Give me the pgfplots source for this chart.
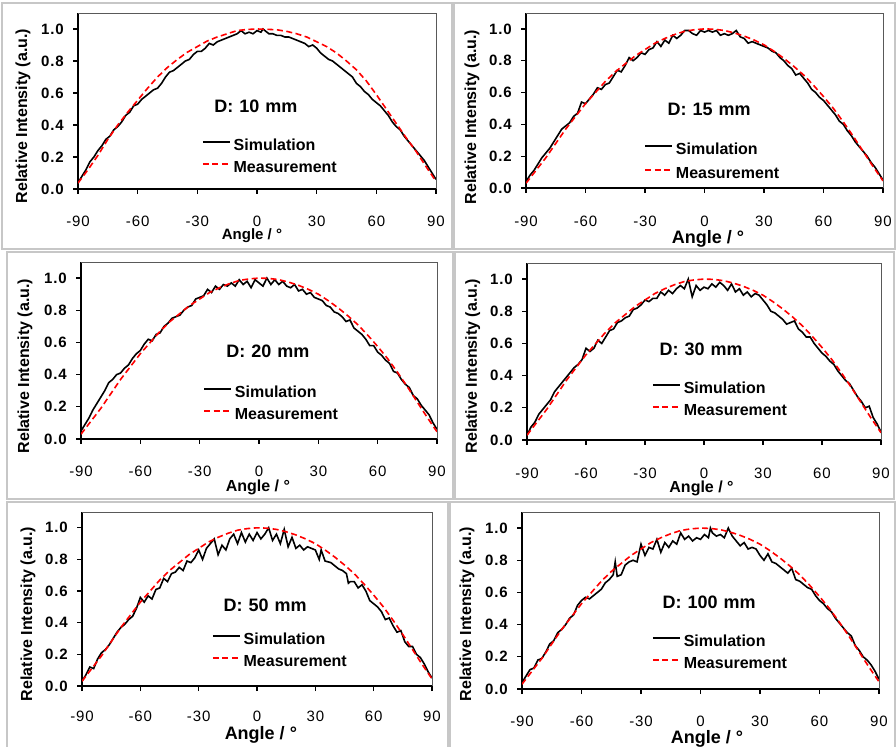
\documentclass[border=0pt]{standalone}
\usepackage{fontspec}
\setmainfont{Liberation Sans}
\usepackage{pgfplots}
\usepackage{pgfplotstable}
\pgfplotsset{compat=1.18}
\newcommand\fs[1]{\fontsize{#1}{#1}\selectfont}
\newcommand\tickfont{\fs{15bp}\addfontfeature{LetterSpace=6}}

\pgfplotstableread{
x y
-90 0.037
-85 0.12
-80 0.21
-75 0.31
-70 0.40
-65 0.48
-60 0.555
-55 0.63
-50 0.70
-45 0.76
-40 0.81
-35 0.855
-30 0.89
-25 0.925
-20 0.95
-15 0.97
-10 0.99
-5 0.997
0 1.0
5 0.998
10 0.995
15 0.985
20 0.97
25 0.95
30 0.92
35 0.89
40 0.85
45 0.80
50 0.745
55 0.675
60 0.59
65 0.50
70 0.41
75 0.32
80 0.235
85 0.14
90 0.048
}\measA

\pgfplotstableread{
x y
-90 0.03
-85 0.11
-80 0.19
-75 0.28
-70 0.37
-65 0.45
-60 0.53
-55 0.60
-50 0.67
-45 0.73
-40 0.78
-35 0.83
-30 0.87
-25 0.91
-20 0.94
-15 0.965
-10 0.985
-5 0.995
0 1.0
5 0.998
10 0.99
15 0.975
20 0.955
25 0.93
30 0.90
35 0.86
40 0.815
45 0.765
50 0.71
55 0.645
60 0.575
65 0.50
70 0.415
75 0.325
80 0.23
85 0.135
90 0.045
}\measB

\pgfplotstableread{
x y
-90 0.04
-88 0.08
-86 0.12
-84 0.17
-82 0.20
-80 0.24
-78 0.27
-76 0.31
-74 0.33
-72 0.37
-70 0.39
-68 0.42
-66 0.46
-64 0.48
-62 0.52
-60 0.53
-58 0.56
-56 0.58
-54 0.60
-52 0.62
-50 0.63
-48 0.66
-46 0.70
-44 0.73
-42 0.74
-40 0.76
-38 0.78
-36 0.80
-34 0.81
-32 0.84
-30 0.86
-28 0.86
-26 0.88
-24 0.91
-22 0.90
-20 0.92
-18 0.93
-16 0.94
-14 0.95
-12 0.96
-10 0.97
-8 0.99
-6 0.97
-4 0.98
-2 0.97
0 0.99
2 0.98
3 1.00
4 0.99
6 0.97
8 0.97
10 0.96
12 0.96
14 0.95
16 0.95
18 0.94
20 0.93
22 0.92
24 0.91
26 0.89
28 0.90
30 0.88
32 0.85
34 0.83
36 0.81
38 0.80
40 0.78
42 0.76
44 0.74
46 0.72
48 0.70
50 0.66
52 0.64
54 0.61
56 0.59
58 0.56
60 0.54
62 0.52
64 0.49
66 0.46
68 0.42
70 0.39
72 0.37
74 0.33
76 0.30
78 0.27
80 0.24
82 0.21
84 0.18
86 0.14
88 0.10
90 0.06
}\simA

\pgfplotstableread{
x y
-90 0.04
-88 0.08
-86 0.11
-84 0.15
-82 0.19
-80 0.22
-78 0.25
-76 0.29
-74 0.33
-72 0.37
-70 0.39
-68 0.41
-66 0.45
-64 0.47
-62 0.54
-60 0.53
-58 0.56
-56 0.59
-54 0.63
-52 0.62
-50 0.65
-48 0.66
-46 0.70
-44 0.74
-42 0.73
-40 0.77
-38 0.82
-36 0.80
-34 0.82
-32 0.85
-30 0.84
-28 0.87
-26 0.88
-24 0.92
-22 0.89
-20 0.93
-18 0.91
-16 0.96
-14 0.94
-12 0.96
-10 0.99
-8 0.99
-6 0.97
-4 0.96
-2 0.99
0 0.98
2 0.99
4 0.98
6 0.99
8 0.96
10 0.97
12 0.96
14 0.97
16 0.99
18 0.95
20 0.94
22 0.91
24 0.92
26 0.91
28 0.90
30 0.89
32 0.88
34 0.86
36 0.85
38 0.82
40 0.80
42 0.77
44 0.75
46 0.71
48 0.72
50 0.69
52 0.66
54 0.62
56 0.60
58 0.57
60 0.55
62 0.52
64 0.49
66 0.46
68 0.42
70 0.40
72 0.36
74 0.33
76 0.29
78 0.26
80 0.23
82 0.20
84 0.16
86 0.13
88 0.09
90 0.05
}\simB

\pgfplotstableread{
x y
-90 0.05
-88 0.09
-86 0.13
-84 0.18
-82 0.22
-80 0.26
-78 0.30
-76 0.35
-74 0.37
-72 0.40
-70 0.41
-68 0.44
-66 0.46
-64 0.50
-62 0.53
-60 0.55
-58 0.59
-56 0.62
-54 0.61
-52 0.65
-50 0.66
-48 0.70
-46 0.72
-44 0.75
-42 0.76
-40 0.77
-38 0.80
-36 0.82
-34 0.83
-32 0.87
-30 0.88
-28 0.89
-26 0.93
-24 0.91
-22 0.95
-20 0.93
-18 0.96
-16 0.95
-14 0.97
-12 0.95
-10 0.99
-8 0.96
-6 0.98
-4 0.94
-2 0.99
0 0.97
2 0.95
4 1.00
6 0.96
8 0.99
10 0.96
12 0.98
14 0.95
16 0.94
18 0.96
20 0.92
22 0.93
24 0.90
26 0.91
28 0.88
30 0.87
32 0.86
34 0.83
36 0.82
38 0.79
40 0.78
42 0.76
44 0.73
46 0.74
48 0.69
50 0.67
52 0.65
54 0.62
56 0.58
58 0.58
60 0.54
62 0.52
64 0.49
66 0.47
68 0.42
70 0.41
72 0.37
74 0.34
76 0.32
78 0.27
80 0.25
82 0.21
84 0.18
86 0.15
88 0.10
90 0.06
}\simC

\pgfplotstableread{
x y
-90 0.03
-88 0.08
-86 0.11
-84 0.16
-82 0.19
-80 0.22
-78 0.25
-76 0.30
-74 0.33
-72 0.36
-70 0.39
-68 0.42
-66 0.45
-64 0.47
-62 0.50
-60 0.57
-58 0.55
-56 0.57
-54 0.62
-52 0.60
-50 0.64
-48 0.68
-46 0.69
-44 0.73
-42 0.74
-40 0.76
-38 0.77
-36 0.81
-34 0.82
-32 0.84
-30 0.87
-28 0.86
-26 0.88
-24 0.88
-22 0.92
-20 0.90
-18 0.93
-16 0.91
-14 0.94
-12 0.96
-10 0.94
-8 1.00
-6 0.89
-4 0.96
-2 0.93
0 0.95
2 0.94
4 0.97
6 0.95
8 0.98
10 0.96
12 0.93
14 0.97
16 0.92
18 0.94
20 0.90
22 0.92
24 0.89
26 0.91
28 0.90
30 0.87
32 0.84
34 0.80
36 0.79
38 0.77
40 0.75
42 0.72
44 0.73
46 0.74
48 0.69
50 0.67
52 0.64
54 0.64
56 0.60
58 0.57
60 0.54
62 0.52
64 0.49
66 0.47
68 0.43
70 0.40
72 0.37
74 0.35
76 0.31
78 0.27
80 0.24
82 0.20
84 0.21
86 0.14
88 0.10
90 0.05
}\simD

\pgfplotstableread{
x y
-90 0.03
-88 0.07
-86 0.12
-84 0.11
-82 0.17
-80 0.21
-78 0.23
-76 0.26
-74 0.30
-72 0.34
-70 0.37
-68 0.39
-66 0.42
-64 0.44
-62 0.49
-60 0.56
-58 0.53
-56 0.57
-54 0.55
-52 0.61
-50 0.62
-48 0.68
-46 0.66
-44 0.71
-42 0.72
-40 0.75
-38 0.73
-36 0.79
-34 0.78
-32 0.81
-30 0.86
-28 0.80
-26 0.87
-24 0.90
-22 0.93
-20 0.83
-18 0.89
-16 0.86
-14 0.93
-12 0.96
-10 0.90
-8 0.97
-6 0.91
-4 0.96
-2 0.92
0 0.97
2 0.93
4 0.96
6 1.00
8 0.92
10 0.96
12 0.90
14 0.99
16 0.88
18 0.94
20 0.87
22 0.89
24 0.86
26 0.88
28 0.87
30 0.86
32 0.80
33 0.86
35 0.79
38 0.78
40 0.76
42 0.74
44 0.73
46 0.71
47 0.65
48 0.66
50 0.66
52 0.62
54 0.64
56 0.60
58 0.54
60 0.52
62 0.50
64 0.47
66 0.42
68 0.43
70 0.38
72 0.34
74 0.35
76 0.28
78 0.25
80 0.25
82 0.20
84 0.18
86 0.14
88 0.09
90 0.05
}\simE

\pgfplotstableread{
x y
-90 0.04
-88 0.08
-86 0.12
-84 0.13
-82 0.18
-80 0.19
-78 0.23
-76 0.28
-74 0.30
-72 0.35
-70 0.37
-68 0.40
-66 0.44
-64 0.46
-62 0.52
-60 0.55
-58 0.57
-56 0.56
-54 0.58
-52 0.60
-50 0.62
-48 0.66
-46 0.68
-44 0.71
-43 0.79
-42 0.70
-40 0.71
-38 0.77
-36 0.79
-34 0.80
-32 0.79
-30 0.90
-28 0.83
-26 0.88
-24 0.87
-22 0.93
-20 0.85
-18 0.91
-16 0.88
-14 0.92
-12 0.90
-10 0.97
-8 0.93
-6 0.95
-4 0.92
-2 0.94
0 0.93
2 0.96
4 0.94
5 1.00
6 0.97
8 0.95
10 0.96
12 0.94
14 1.00
16 0.95
18 0.92
20 0.89
22 0.91
24 0.87
26 0.88
28 0.87
30 0.83
32 0.80
34 0.84
36 0.79
38 0.78
40 0.76
42 0.74
44 0.72
46 0.75
48 0.68
50 0.67
52 0.65
54 0.63
56 0.62
58 0.58
60 0.55
62 0.53
64 0.50
66 0.48
68 0.44
70 0.41
72 0.38
74 0.35
76 0.33
78 0.27
80 0.24
82 0.20
84 0.18
86 0.15
88 0.11
90 0.06
}\simF

\pgfplotsset{
 panel/.style={
  scale only axis, anchor=south west,
  xmin=-90, xmax=90, ymin=0, ymax=1.1,
  axis lines=left,
  axis line style={-, line width=1.6bp, black},
  tick align=outside, major tick length=5bp,
  every tick/.style={black, line width=1.2bp},
  xtick={-90,-60,-30,0,30,60,90},
  xticklabels={-90,-60,-30,0,30,60,90},
  ytick={0,0.2,0.4,0.6,0.8,1.0},
  yticklabels={0.0,0.2,0.4,0.6,0.8,1.0},
  yticklabel style={font=\tickfont\bfseries, anchor=east, inner sep=0pt, xshift=-9bp},
  xticklabel style={font=\tickfont, anchor=center, inner sep=0pt},
  legend image code/.code={\draw[##1] (0bp,4bp) -- (27bp,4bp);},
  legend cell align=left,
  legend style={draw=none, fill=none, anchor=north west, inner sep=0pt,
    column sep=3bp, font=\fs{16bp}\bfseries,
    nodes={inner sep=0pt, text height=11.5bp, text depth=3bp}},
  extra description/.code={\draw[black!65, line width=0.8bp] (rel axis cs:0,1) -- (rel axis cs:1,1) -- (rel axis cs:1,0);},
  xlabel={Angle / °},
  ylabel={Relative Intensity (a.u.)},
  ylabel style={font=\fs{16bp}\bfseries, anchor=center},
  xlabel style={anchor=center, inner sep=0pt},
 },
 sim/.style={black, line width=1.6bp},
 meas/.style={red, line width=1.6bp, dash pattern=on 6bp off 3.5bp},
}
\tikzset{dlab/.style={font=\fs{18bp}\bfseries}}
\newcommand\dtext[1]{D:\hspace{6bp}#1\hspace{6bp}mm}

\begin{document}
\begin{tikzpicture}
\path[use as bounding box] (0bp,0bp) rectangle (896bp,747bp);
\fill[white] (0bp,0bp) rectangle (896bp,747bp);
\begin{scope}[draw=black!22, line width=1.5bp]
\draw (2bp,498bp) rectangle (452bp,744bp);
\draw (454bp,498bp) rectangle (895bp,744bp);
\draw (7bp,248bp) rectangle (453bp,495bp);
\draw (455bp,248bp) rectangle (894bp,495bp);
\draw (7bp,-2bp) rectangle (448bp,245bp);
\draw (450bp,-2bp) rectangle (895bp,245bp);
\end{scope}

% P1
\begin{axis}[panel, at={(78bp,558bp)}, width=358bp, height=176bp,
  xticklabel style={yshift=-27bp},
  xlabel style={at={(axis description cs:0.486,-0.267)}, font=\fs{15bp}\bfseries},
  ylabel style={at={(axis description cs:-0.154,0.415)}},
  legend style={at={(axis description cs:0.346,0.2875)}, row sep=7.5bp}]
\addplot[sim] table {\simA};
\addplot[meas] table {\measA};
\legend{Simulation,Measurement}
\node[dlab] at (axis description cs:0.497,0.472) {\dtext{10}};
\end{axis}

% P2
\begin{axis}[panel, at={(526bp,559bp)}, width=357bp, height=175bp,
  xticklabel style={yshift=-28bp},
  xlabel style={at={(axis description cs:0.51,-0.29)}, font=\fs{18bp}\bfseries},
  ylabel style={at={(axis description cs:-0.151,0.406)}},
  legend style={at={(axis description cs:0.331,0.261)}, row sep=9.5bp}]
\addplot[sim] table {\simB};
\addplot[meas] table {\measB};
\legend{Simulation,Measurement}
\node[dlab] at (axis description cs:0.513,0.451) {\dtext{15}};
\end{axis}

% P3
\begin{axis}[panel, at={(81bp,308bp)}, width=356bp, height=177bp,
  xticklabel style={yshift=-27bp},
  xlabel style={at={(axis description cs:0.497,-0.275)}, font=\fs{16bp}\bfseries},
  ylabel style={at={(axis description cs:-0.157,0.412)}},
  legend style={at={(axis description cs:0.343,0.303)}, row sep=7.5bp}]
\addplot[sim] table {\simC};
\addplot[meas] table {\measB};
\legend{Simulation,Measurement}
\node[dlab] at (axis description cs:0.525,0.497) {\dtext{20}};
\end{axis}

% P4
\begin{axis}[panel, at={(527bp,307bp)}, width=354bp, height=177bp,
  xticklabel style={yshift=-28bp},
  xlabel style={at={(axis description cs:0.493,-0.275)}, font=\fs{16bp}\bfseries},
  ylabel style={at={(axis description cs:-0.153,0.418)}},
  legend style={at={(axis description cs:0.353,0.331)}, row sep=7.5bp}]
\addplot[sim] table {\simD};
\addplot[meas] table {\measB};
\legend{Simulation,Measurement}
\node[dlab] at (axis description cs:0.492,0.511) {\dtext{30}};
\end{axis}

% P5
\begin{axis}[panel, at={(82bp,61bp)}, width=350bp, height=174bp,
  xticklabel style={yshift=-25bp},
  xlabel style={at={(axis description cs:0.511,-0.28)}, font=\fs{18bp}\bfseries},
  ylabel style={at={(axis description cs:-0.154,0.414)}},
  legend style={at={(axis description cs:0.371,0.308)}, row sep=7.5bp}]
\addplot[sim] table {\simE};
\addplot[meas] table {\measB};
\legend{Simulation,Measurement}
\node[dlab] at (axis description cs:0.523,0.466) {\dtext{50}};
\end{axis}

% P6
\begin{axis}[panel, at={(522bp,58bp)}, width=357bp, height=177bp,
  xticklabel style={yshift=-27bp},
  xlabel style={at={(axis description cs:0.518,-0.28)}, font=\fs{18bp}\bfseries},
  ylabel style={at={(axis description cs:-0.154,0.424)}},
  legend style={at={(axis description cs:0.364,0.308)}, row sep=7.5bp}]
\addplot[sim] table {\simF};
\addplot[meas] table {\measB};
\legend{Simulation,Measurement}
\node[dlab] at (axis description cs:0.524,0.492) {\dtext{100}};
\end{axis}
\end{tikzpicture}
\end{document}
